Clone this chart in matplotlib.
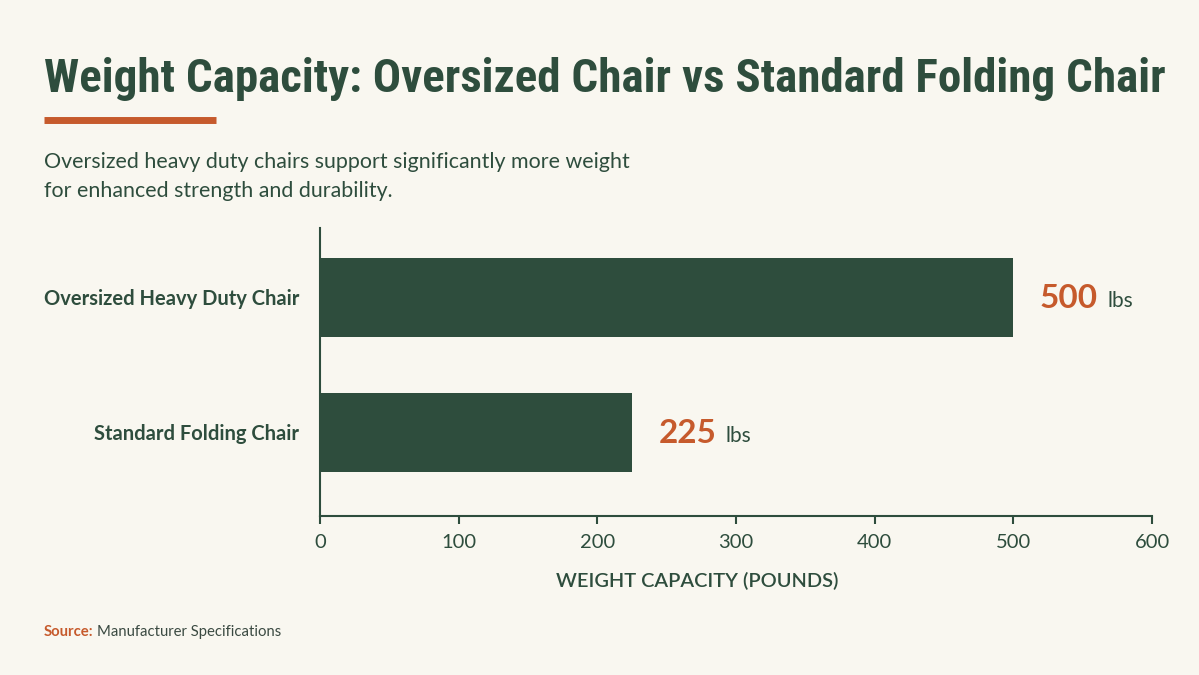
import matplotlib.pyplot as plt

# data
chairs = ["Oversized Heavy Duty Chair", "Standard Folding Chair"]
capacity = [500, 225]
x_ticks = [0, 100, 200, 300, 400, 500, 600]

bg = "#f9f7f0"
green = "#2e4d3d"
orange = "#c65a2c"

fig = plt.figure(figsize=(11.99, 6.75), dpi=100, facecolor=bg)

# title + accent line + subtitle
title = fig.text(44 / 1199, 1 - 92 / 675, "Weight Capacity: Oversized Chair vs Standard Folding Chair",
                 fontsize=40, fontweight="bold",
                 family=["Roboto Condensed", "Liberation Sans Narrow", "DejaVu Sans Condensed", "Roboto"],
                 color=green, va="baseline", ha="left")
# fit title to the width of the reference (44 -> 1163 px)
fig.canvas.draw()
w = title.get_window_extent().width
title.set_fontsize(40 * (1163 - 44) / w)

fig.add_artist(plt.Line2D([44 / 1199, 216 / 1199], [1 - 120 / 675] * 2,
                          color=orange, lw=5, solid_capstyle="butt"))
fig.text(44 / 1199, 1 - 168 / 675, "Oversized heavy duty chairs support significantly more weight",
         fontsize=15.4, family="Lato", color=green, va="baseline", ha="left")
fig.text(44 / 1199, 1 - 197 / 675, "for enhanced strength and durability.",
         fontsize=15.4, family="Lato", color=green, va="baseline", ha="left")

# chart
ax = fig.add_axes([320 / 1199, 1 - 516 / 675, (1152 - 320) / 1199, (516 - 228) / 675])
ax.set_facecolor(bg)
ypos = [1, 0]
ax.barh(ypos, capacity, height=0.585, color=green)
ax.set_xlim(0, 600)
ax.set_ylim(-0.62, 1.515)
ax.set_xticks(x_ticks)
ax.set_xticklabels([str(t) for t in x_ticks], family="Lato", fontsize=14.5, color=green)
ax.set_yticks(ypos)
ax.set_yticklabels(chairs, family="Lato", fontweight="bold", fontsize=14.5, color=green)
ax.tick_params(axis="y", length=0, pad=15)
ax.tick_params(axis="x", length=6, width=1.5, color=green, pad=7)
for s in ["top", "right"]:
    ax.spines[s].set_visible(False)
for s in ["left", "bottom"]:
    ax.spines[s].set_color(green)
    ax.spines[s].set_linewidth(1.5)
ax.set_xlabel("WEIGHT CAPACITY (POUNDS)", family="Lato", fontsize=14.4, fontweight="semibold",
              color=green)
ax.xaxis.set_label_coords((697 - 320) / 832, -56 / 288)

# value labels
for y, v in zip(ypos, capacity):
    t = ax.annotate(str(v), (v, y), xytext=(19, -1), textcoords="offset points",
                    fontsize=24, fontweight="bold", family="Lato", color=orange,
                    va="center", ha="left")
    ax.annotate("lbs", xycoords=t, xy=(1, 0.22), xytext=(7, 0), textcoords="offset points",
                fontsize=15, family="Lato", color=green, va="baseline", ha="left")

# source
src = fig.text(44 / 1199, 1 - 636 / 675, "Source:", fontsize=10.7, fontweight="bold",
               family="Lato", color=orange, va="baseline", ha="left")
fig.canvas.draw()
bb = src.get_window_extent()
fig.text(bb.x1 / fig.bbox.width + 3 / 1199, 1 - 636 / 675, "Manufacturer Specifications",
         fontsize=10.7, family="Lato", color="#3b4a42", va="baseline", ha="left")

fig.savefig("out.png", dpi=100, facecolor=bg)
